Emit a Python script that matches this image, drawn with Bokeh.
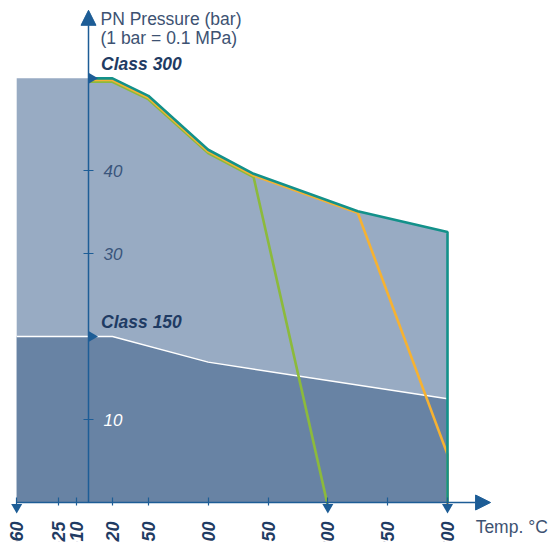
from math import pi
from bokeh.plotting import figure
from bokeh.models import LinearAxis, FixedTicker, Range1d, Arrow, NormalHead
from bokeh.core.properties import value
from bokeh.embed import file_html
from bokeh.resources import INLINE

# ---------------- data ----------------
# Class 300 envelope (teal outline)
temp_c300 = [0, 20, 50, 100, 138, 225, 300]
p_c300 = [51.1, 51.1, 49.0, 42.5, 39.6, 35.1, 32.6]
# Class 150 envelope (dark area)
temp_c150 = [-60, 20, 100, 300]
p_c150 = [20.0, 20.0, 16.9, 12.5]
# green seat limit
temp_green = [0, 20, 50, 100, 138, 200]
p_green = [51.1, 51.1, 49.0, 42.5, 39.6, 0.0]
# orange seat limit
temp_orange = [0, 20, 50, 100, 138, 225, 300, 300]
p_orange = [51.1, 51.1, 49.0, 42.5, 39.6, 35.1, 6.0, 0.0]
# teal (full class 300 line incl. end drop)
temp_teal = temp_c300 + [300]
p_teal = p_c300 + [0.0]

t_min, t_max, t_arrow = -60, 300, 336
p_arrow = 59.3
x_ticks = [-60, -25, -10, 20, 50, 100, 150, 200, 250, 300]
y_ticks_dark = [30, 40]
y_ticks_light = [10]
marker_temps = [-60, 200, 300]
class_levels = [51.1, 20.0]
class_labels = ["Class 300", "Class 150"]

# ---------------- geometry / styles ----------------
W, H = 549, 542
X0_PX, PX_PER_C = 88.0, 1.1967     # canvas px of 0 degC
Y0_PX, PX_PER_BAR = 502.0, 8.3     # canvas px of 0 bar
x_start = -X0_PX / PX_PER_C
x_end = (W - X0_PX) / PX_PER_C
y_end = Y0_PX / PX_PER_BAR
y_start = (Y0_PX - H) / PX_PER_BAR

AX = "#1d5d96"
NAVY = "#1f3b63"
TXT = "#3d5272"
LIGHT = "#98abc3"
DARK = "#6883a4"
TEAL = "#13918a"
ORANGE = "#f6b232"
GREEN = "#8cba3c"
FONT = "Liberation Sans"

p = figure(width=W, height=H, output_backend="svg", toolbar_location=None,
           x_axis_type=None, y_axis_type=None,
           x_range=Range1d(x_start, x_end), y_range=Range1d(y_start, y_end),
           min_border=0, min_border_left=0, min_border_right=0,
           min_border_top=0, min_border_bottom=0)
p.outline_line_color = None
p.background_fill_color = "white"
p.border_fill_color = "white"

shift = 1.7 / PX_PER_BAR
p.extra_y_ranges = {
    "orange": Range1d(y_start + shift, y_end + shift),
    "green": Range1d(y_start + 2 * shift, y_end + 2 * shift),
}

# areas
light_x = [t_min, t_min] + temp_c300 + [t_max]
light_y = [0, p_c300[0]] + p_c300 + [0]
p.patch(light_x, light_y, fill_color=LIGHT, line_color=None)
dark_x = [t_min] + temp_c150 + [t_max]
dark_y = [0] + p_c150 + [0]
p.patch(dark_x, dark_y, fill_color=DARK, line_color=None)
p.line(temp_c150, p_c150, line_color="white", line_width=1.3)

# limit lines
p.line(temp_green, p_green, line_color=GREEN, line_width=2.6, y_range_name="green")
p.line(temp_orange, p_orange, line_color=ORANGE, line_width=2.6, y_range_name="orange")
p.line(temp_teal, p_teal, line_color=TEAL, line_width=2.6)

# axis arrows
p.add_layout(Arrow(end=NormalHead(size=15, fill_color=AX, line_color=AX),
                   x_start=t_min, y_start=0, x_end=t_arrow, y_end=0,
                   line_color=AX, line_width=1.5))
p.add_layout(Arrow(end=NormalHead(size=15, fill_color=AX, line_color=AX),
                   x_start=0, y_start=0, x_end=0, y_end=p_arrow,
                   line_color=AX, line_width=1.5))

# axes (ticks + labels) fixed at the origin
xaxis = LinearAxis(fixed_location=0, ticker=FixedTicker(ticks=x_ticks))
xaxis.axis_line_color = None
xaxis.major_tick_line_color = AX
xaxis.major_tick_line_width = 1.2
xaxis.major_tick_in = 5
xaxis.major_tick_out = 3
xaxis.minor_tick_line_color = None
xaxis.major_label_orientation = pi / 2
xaxis.major_label_text_font = FONT
xaxis.major_label_text_font_style = "bold italic"
xaxis.major_label_text_font_size = "18px"
xaxis.major_label_text_color = NAVY
xaxis.major_label_standoff = 16
p.add_layout(xaxis, "below")

for ticks, col in ((y_ticks_dark, "#3a557c"), (y_ticks_light, "white")):
    ya = LinearAxis(fixed_location=0, ticker=FixedTicker(ticks=ticks))
    ya.axis_line_color = None
    ya.major_tick_line_color = AX
    ya.major_tick_line_width = 1.2
    ya.major_tick_in = 5
    ya.major_tick_out = 5
    ya.minor_tick_line_color = None
    ya.major_label_text_font = FONT
    ya.major_label_text_font_style = "italic"
    ya.major_label_text_font_size = "17px"
    ya.major_label_text_color = col
    ya.major_label_standoff = 10
    p.add_layout(ya, "right")

# markers on axes
tri = 11
p.scatter(marker_temps, [-(0.866 * tri / 3 + 1.5) / PX_PER_BAR] * len(marker_temps),
          marker="inverted_triangle", size=tri, fill_color=AX, line_color=None)
p.scatter([(0.866 * tri / 3) / PX_PER_C] * len(class_levels), class_levels,
          marker="triangle", angle=-pi / 2, size=tri, fill_color=AX, line_color=None)

# texts
lift = 3.5 / PX_PER_BAR
class_lift = 14.5 / PX_PER_BAR
p.text(x=[10.5, 10.5], y=[c + class_lift for c in class_levels], text=class_labels,
       text_font=value(FONT), text_font_style="bold italic", text_font_size="17.5px",
       text_color=NAVY, text_baseline="alphabetic", text_align="left")
p.text(x=[10.0, 10.0], y=[57.8 + lift, 55.5 + lift],
       text=["PN Pressure (bar)", "(1 bar = 0.1 MPa)"],
       text_font=value(FONT), text_font_size="17.5px",
       text_color=TXT, text_baseline="alphabetic", text_align="left")
p.text(x=[323.5], y=[-3.4 + 0.5], text=["Temp. °C"],
       text_font=value(FONT), text_font_size="17.5px",
       text_color=TXT, text_baseline="alphabetic", text_align="left")

open("out.html", "w").write(file_html(p, INLINE))
